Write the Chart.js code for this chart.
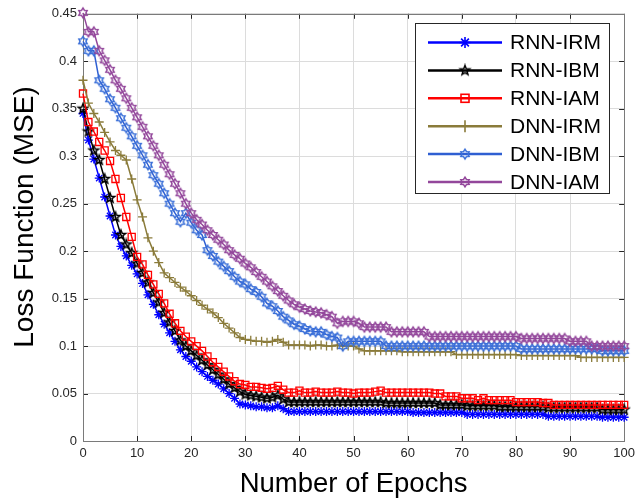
<!DOCTYPE html>
<html><head><meta charset="utf-8">
<script src="https://cdn.jsdelivr.net/npm/chart.js@4/dist/chart.umd.min.js"></script>
<style>html,body{margin:0;padding:0;background:#fff}</style>
</head><body>
<canvas id="c" width="640" height="498"></canvas>
<script>
const epochs = Array.from({length: 101}, (_, i) => i);
const seriesNames = ['RNN-IRM','RNN-IBM','RNN-IAM','DNN-IRM','DNN-IBM','DNN-IAM'];
const xTicks = [0,10,20,30,40,50,60,70,80,90,100];
const yTicks = [0,0.05,0.1,0.15,0.2,0.25,0.3,0.35,0.4,0.45];
const xTitle = 'Number of Epochs';
const yTitle = 'Loss Function (MSE)';

const rnnIrm = [0.345,0.317,0.297,0.277,0.257,0.237,0.217,0.205,0.195,0.185,
0.176,0.166,0.154,0.144,0.133,0.123,0.114,0.105,0.096,0.089,
0.084,0.078,0.073,0.068,0.064,0.060,0.055,0.050,0.045,0.039,
0.038,0.037,0.036,0.036,0.035,0.035,0.037,0.034,0.031,0.031,
0.031,0.031,0.031,0.031,0.031,0.031,0.031,0.031,0.031,0.031,
0.031,0.031,0.031,0.031,0.031,0.031,0.031,0.031,0.031,0.031,
0.031,0.030,0.030,0.030,0.030,0.030,0.030,0.030,0.030,0.030,
0.030,0.028,0.028,0.028,0.028,0.028,0.028,0.028,0.028,0.028,
0.028,0.028,0.028,0.028,0.028,0.028,0.026,0.026,0.026,0.026,
0.026,0.026,0.026,0.026,0.026,0.026,0.025,0.025,0.025,0.025,
0.025];
const rnnIbm = [0.350,0.326,0.306,0.296,0.276,0.256,0.236,0.217,0.207,0.198,
0.187,0.177,0.167,0.156,0.146,0.135,0.125,0.116,0.106,0.100,
0.095,0.090,0.085,0.080,0.075,0.070,0.065,0.060,0.056,0.052,
0.049,0.048,0.047,0.046,0.045,0.046,0.048,0.044,0.041,0.041,
0.041,0.041,0.041,0.041,0.041,0.041,0.041,0.041,0.041,0.041,
0.041,0.041,0.041,0.041,0.041,0.041,0.040,0.040,0.040,0.040,
0.040,0.040,0.040,0.040,0.040,0.040,0.038,0.038,0.038,0.038,
0.038,0.037,0.037,0.037,0.037,0.037,0.037,0.036,0.036,0.036,
0.036,0.036,0.036,0.036,0.036,0.036,0.035,0.035,0.035,0.035,
0.035,0.035,0.035,0.035,0.035,0.035,0.033,0.033,0.033,0.033,
0.033];
const rnnIam = [0.366,0.336,0.326,0.315,0.306,0.295,0.276,0.256,0.236,0.215,
0.194,0.186,0.175,0.165,0.155,0.145,0.134,0.124,0.116,0.110,
0.105,0.100,0.095,0.089,0.083,0.078,0.073,0.068,0.063,0.060,
0.059,0.057,0.057,0.056,0.055,0.056,0.058,0.054,0.051,0.051,
0.053,0.051,0.051,0.052,0.051,0.051,0.051,0.052,0.051,0.051,
0.050,0.051,0.051,0.051,0.052,0.053,0.051,0.051,0.051,0.051,
0.051,0.051,0.051,0.051,0.051,0.050,0.050,0.047,0.047,0.047,
0.045,0.045,0.045,0.043,0.045,0.043,0.043,0.043,0.043,0.043,
0.041,0.041,0.041,0.041,0.041,0.040,0.040,0.038,0.038,0.038,
0.038,0.038,0.038,0.038,0.038,0.038,0.038,0.038,0.038,0.038,
0.038];
const dnnIrm = [0.380,0.356,0.345,0.336,0.325,0.315,0.306,0.301,0.296,0.276,
0.254,0.236,0.214,0.200,0.188,0.177,0.172,0.167,0.162,0.158,
0.153,0.148,0.143,0.139,0.135,0.130,0.124,0.119,0.114,0.109,
0.107,0.106,0.105,0.105,0.104,0.105,0.107,0.104,0.101,0.101,
0.101,0.101,0.100,0.101,0.101,0.100,0.100,0.101,0.100,0.100,
0.100,0.097,0.095,0.095,0.095,0.095,0.095,0.095,0.095,0.094,
0.094,0.094,0.094,0.094,0.094,0.094,0.094,0.094,0.094,0.091,
0.091,0.091,0.091,0.091,0.091,0.091,0.091,0.091,0.091,0.091,
0.091,0.090,0.090,0.090,0.090,0.090,0.090,0.090,0.090,0.090,
0.090,0.090,0.088,0.088,0.088,0.088,0.088,0.088,0.088,0.088,
0.088];
const dnnIbm = [0.421,0.411,0.411,0.380,0.371,0.360,0.351,0.340,0.330,0.321,
0.311,0.301,0.291,0.280,0.271,0.261,0.250,0.240,0.231,0.240,
0.230,0.222,0.217,0.201,0.195,0.189,0.184,0.179,0.173,0.168,
0.165,0.160,0.157,0.152,0.145,0.142,0.137,0.131,0.127,0.123,
0.121,0.118,0.116,0.115,0.115,0.112,0.110,0.109,0.100,0.105,
0.105,0.105,0.105,0.105,0.105,0.105,0.100,0.100,0.100,0.100,
0.100,0.100,0.100,0.100,0.100,0.100,0.100,0.100,0.100,0.100,
0.100,0.100,0.100,0.100,0.100,0.100,0.100,0.100,0.100,0.100,
0.100,0.097,0.097,0.097,0.097,0.097,0.097,0.097,0.097,0.097,
0.097,0.097,0.097,0.097,0.097,0.097,0.095,0.095,0.095,0.095,
0.095];
const dnnIam = [0.451,0.431,0.431,0.411,0.401,0.391,0.380,0.371,0.361,0.351,
0.341,0.331,0.321,0.311,0.301,0.291,0.281,0.271,0.261,0.250,
0.240,0.233,0.228,0.222,0.217,0.212,0.207,0.201,0.196,0.192,
0.187,0.183,0.178,0.173,0.168,0.163,0.158,0.153,0.148,0.144,
0.141,0.139,0.137,0.136,0.135,0.133,0.131,0.124,0.126,0.126,
0.126,0.124,0.120,0.120,0.120,0.120,0.120,0.115,0.115,0.115,
0.115,0.115,0.115,0.115,0.110,0.110,0.110,0.110,0.110,0.110,
0.110,0.110,0.110,0.110,0.110,0.110,0.110,0.110,0.110,0.110,
0.110,0.108,0.108,0.108,0.108,0.108,0.108,0.108,0.108,0.108,
0.105,0.105,0.105,0.105,0.100,0.100,0.100,0.100,0.100,0.100,
0.100];

const FONT = '"Liberation Sans", Arial, sans-serif';

function starCanvas(points, rOut, rIn, color, lw) {
  const s = 14, c = document.createElement('canvas');
  c.width = s; c.height = s;
  const g = c.getContext('2d');
  g.strokeStyle = color; g.lineWidth = lw; g.lineJoin = 'miter';
  g.beginPath();
  for (let i = 0; i < points * 2; i++) {
    const a = -Math.PI / 2 + i * Math.PI / points;
    const r = i % 2 ? rIn : rOut;
    const px = s / 2 + r * Math.cos(a), py = s / 2 + r * Math.sin(a);
    if (i === 0) g.moveTo(px, py); else g.lineTo(px, py);
  }
  g.closePath(); g.stroke();
  return c;
}

const colors = ['#0000ff', '#000000', '#ff0000', '#8a7b3a', '#2f5fd2', '#93479b'];
const styles = [
  'star',
  starCanvas(5, 5.0, 2.1, '#000000', 1.5),
  'rect',
  'cross',
  starCanvas(6, 4.8, 2.9, '#3a6fd8', 1.5),
  starCanvas(6, 4.8, 2.9, '#93479b', 1.5)
];
const radii = [4.5, 4, 5, 4.5, 4, 4];
const values = [rnnIrm, rnnIbm, rnnIam, dnnIrm, dnnIbm, dnnIam];

const datasets = seriesNames.map((name, k) => ({
  label: name,
  data: epochs.map((e, i) => ({x: e, y: values[k][i]})),
  borderColor: colors[k],
  borderWidth: 1.5,
  pointStyle: styles[k],
  pointRadius: radii[k],
  pointBorderColor: colors[k],
  pointBorderWidth: 1.3,
  pointBackgroundColor: 'rgba(0,0,0,0)',
  tension: 0,
  clip: false,
  order: 5 - k
}));

function drawLegendMarker(ctx, k, x, y) {
  const st = styles[k];
  ctx.save();
  ctx.strokeStyle = colors[k];
  ctx.lineWidth = 1.6;
  if (st instanceof HTMLCanvasElement) {
    ctx.drawImage(st, x - st.width / 2, y - st.height / 2);
  } else if (st === 'star') {
    const r = 5.5;
    ctx.beginPath();
    for (let i = 0; i < 4; i++) {
      const a = i * Math.PI / 4;
      ctx.moveTo(x - r * Math.cos(a), y - r * Math.sin(a));
      ctx.lineTo(x + r * Math.cos(a), y + r * Math.sin(a));
    }
    ctx.stroke();
  } else if (st === 'rect') {
    ctx.strokeRect(x - 4, y - 4, 8, 8);
  } else if (st === 'cross') {
    ctx.beginPath();
    ctx.moveTo(x, y - 6); ctx.lineTo(x, y + 6);
    ctx.moveTo(x - 6, y); ctx.lineTo(x + 6, y);
    ctx.stroke();
  }
  ctx.restore();
}

const framePlugin = {
  id: 'frame',
  beforeDatasetsDraw(chart) {
    const {ctx, chartArea: a, scales: {x, y}} = chart;
    ctx.save();
    ctx.strokeStyle = '#262626';
    ctx.lineWidth = 1;
    ctx.beginPath();
    xTicks.forEach(v => {
      const px = Math.round(x.getPixelForValue(v)) + 0.5;
      ctx.moveTo(px, a.bottom); ctx.lineTo(px, a.bottom - 5);
      ctx.moveTo(px, a.top); ctx.lineTo(px, a.top + 5);
    });
    yTicks.forEach(v => {
      const py = Math.round(y.getPixelForValue(v)) + 0.5;
      ctx.moveTo(a.left, py); ctx.lineTo(a.left + 5, py);
      ctx.moveTo(a.right, py); ctx.lineTo(a.right - 5, py);
    });
    ctx.stroke();
    ctx.strokeStyle = '#7a7a7a';
    ctx.strokeRect(Math.round(a.left) + 0.5, Math.round(a.top) + 0.5,
                   Math.round(a.right - a.left), Math.round(a.bottom - a.top));
    ctx.restore();
  },
  afterDraw(chart) {
    const ctx = chart.ctx;
    ctx.save();
    // y-axis title
    ctx.save();
    ctx.translate(25, 217);
    ctx.rotate(-Math.PI / 2);
    ctx.font = '28px ' + FONT;
    ctx.fillStyle = '#000000';
    ctx.textAlign = 'center';
    ctx.textBaseline = 'middle';
    ctx.fillText(yTitle, 0, 0);
    ctx.restore();
    // legend
    ctx.fillStyle = '#ffffff';
    ctx.fillRect(415, 23, 194, 170);
    ctx.strokeStyle = '#262626';
    ctx.lineWidth = 1;
    ctx.strokeRect(415.5, 23.5, 194, 170);
    ctx.font = '21px ' + FONT;
    ctx.textBaseline = 'middle';
    ctx.textAlign = 'left';
    seriesNames.forEach((name, k) => {
      const yy = 42.5 + k * 27.9;
      ctx.strokeStyle = colors[k];
      ctx.lineWidth = 2.5;
      ctx.beginPath();
      ctx.moveTo(428, yy); ctx.lineTo(502, yy);
      ctx.stroke();
      drawLegendMarker(ctx, k, 465, yy);
      ctx.fillStyle = '#000000';
      ctx.fillText(name, 510, yy + 1);
    });
    ctx.restore();
  }
};

new Chart(document.getElementById('c'), {
  type: 'line',
  data: {datasets},
  plugins: [framePlugin],
  options: {
    responsive: false,
    animation: false,
    devicePixelRatio: 1,
    layout: {padding: {left: 0, right: 11, top: 13, bottom: 0}},
    plugins: {legend: {display: false}, tooltip: {enabled: false}},
    scales: {
      x: {
        type: 'linear', min: 0, max: 100,
        afterBuildTicks: s => { s.ticks = xTicks.map(v => ({value: v})); },
        ticks: {color: '#262626', font: {family: FONT, size: 13}, padding: 5, maxRotation: 0,
                callback: v => String(v)},
        grid: {color: '#dcdcdc', drawTicks: false},
        border: {display: false},
        title: {display: true, text: xTitle, color: '#000',
                font: {family: FONT, size: 27.5, lineHeight: 1}, padding: {top: 0, bottom: 0}},
        afterFit: s => { s.height = 57; }
      },
      y: {
        type: 'linear', min: 0, max: 0.45,
        afterBuildTicks: s => { s.ticks = yTicks.map(v => ({value: v})); },
        ticks: {color: '#262626', font: {family: FONT, size: 13}, padding: 6,
                callback: v => String(Math.round(v * 100) / 100)},
        grid: {color: '#dcdcdc', drawTicks: false},
        border: {display: false},
        title: {display: false, text: yTitle},
        afterFit: s => { s.width = 83; }
      }
    }
  }
});
</script>
</body></html>
